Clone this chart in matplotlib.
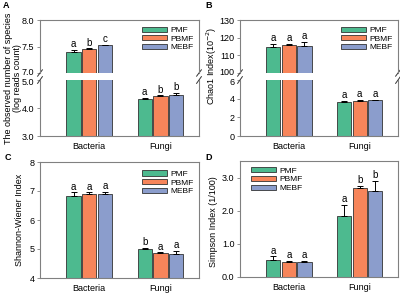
import numpy as np
import matplotlib
matplotlib.use("Agg")
import matplotlib.pyplot as plt
import matplotlib.transforms as mtransforms

plt.rcParams['font.family'] = ['Liberation Sans', 'DejaVu Sans']

# data
groups = ["Bacteria", "Fungi"]
treatments = ["PMF", "PBMF", "MEBF"]
colors = ["#4dba8f", "#f7855a", "#8b9dcc"]

obs_vals = [[7.40, 4.32], [7.45, 4.42], [7.52, 4.48]]
obs_err = [[0.04, 0.05], [0.02, 0.03], [0.01, 0.06]]
obs_sig = [["a", "a"], ["b", "b"], ["c", "b"]]

chao_vals = [[114.5, 3.65], [116.0, 3.80], [115.5, 3.85]]
chao_err = [[2.0, 0.12], [0.6, 0.06], [2.2, 0.05]]
chao_sig = [["a", "a"], ["a", "a"], ["a", "a"]]

shan_vals = [[6.83, 5.00], [6.90, 4.87], [6.90, 4.84]]
shan_err = [[0.12, 0.05], [0.05, 0.02], [0.08, 0.10]]
shan_sig = [["a", "b"], ["a", "a"], ["a", "a"]]

simp_vals = [[0.52, 1.85], [0.45, 2.68], [0.44, 2.60]]
simp_err = [[0.10, 0.32], [0.03, 0.08], [0.05, 0.30]]
simp_sig = [["a", "a"], ["a", "b"], ["a", "b"]]

W, H = 400, 297
fig = plt.figure(figsize=(W / 100, H / 100), dpi=100)

SPINE = "#808080"
FS = 6.5
offsets = [-0.22, 0.0, 0.22]
xpos = np.arange(len(groups))


def box(l, t, r, b):
    return [l / W, 1 - b / H, (r - l) / W, (b - t) / H]


def style(ax):
    for s in ax.spines.values():
        s.set_color(SPINE)
        s.set_linewidth(0.8)
    ax.tick_params(axis="y", direction="out", length=2.5, width=0.6, color=SPINE,
                   labelsize=FS, pad=1.5)
    ax.tick_params(axis="x", length=0, labelsize=FS, pad=4)
    ax.set_xlim(-0.69, 1.54)


def bars(ax, vals, errs, sigs, pad=0.0):
    for i in range(len(treatments)):
        v = np.array(vals[i])
        e = np.array(errs[i])
        ax.bar(xpos + offsets[i], v, width=0.2, color=colors[i], edgecolor="#333333",
               linewidth=0.6, label=treatments[i], zorder=2)
        ax.errorbar(xpos + offsets[i], v, yerr=[np.zeros_like(e), e], fmt="none",
                    ecolor="black", elinewidth=0.7, capsize=2, capthick=0.7, zorder=3)
        for j in range(len(groups)):
            if sigs[i][j]:
                ax.text(xpos[j] + offsets[i], v[j] + e[j] + pad, sigs[i][j],
                        ha="center", va="bottom", fontsize=FS + 0.5)


def breaks(ax_top, ax_bot):
    for ax, yy in ((ax_top, 0), (ax_bot, 1)):
        for x in (0, 1):
            ax.plot([x - 0.015, x + 0.015], [yy - 0.06, yy + 0.06], color="#333333",
                    lw=0.7, transform=ax.transAxes, clip_on=False)


def nudge(label, dy):
    label.set_transform(label.get_transform() +
                        mtransforms.ScaledTranslation(0, dy / 72, fig.dpi_scale_trans))


def broken_panel(l, r, top_lim, bot_lim, top_ticks, bot_ticks, vals, errs, sigs, fmt):
    ax_t = fig.add_axes(box(l, 20, r, 73))
    ax_b = fig.add_axes(box(l, 80, r, 136))
    for ax in (ax_t, ax_b):
        style(ax)
    bars(ax_t, [[v[0], np.nan] for v in vals], [[e[0], 0] for e in errs],
         [[s[0], ""] for s in sigs], pad=(top_lim[1] - top_lim[0]) * 0.01)
    bars(ax_b, vals, errs, [["", s[1]] for s in sigs],
         pad=(bot_lim[1] - bot_lim[0]) * 0.01)
    ax_t.set_ylim(*top_lim)
    ax_b.set_ylim(*bot_lim)
    ax_t.set_yticks(top_ticks)
    ax_b.set_yticks(bot_ticks)
    tl = ax_t.set_yticklabels([fmt.format(t) for t in top_ticks])
    bl = ax_b.set_yticklabels([fmt.format(t) for t in bot_ticks])
    nudge(tl[0], 1.0)
    nudge(bl[-1], -1.0)
    ax_t.spines["bottom"].set_visible(False)
    ax_b.spines["top"].set_visible(False)
    ax_t.set_xticks([])
    ax_b.set_xticks(xpos)
    ax_b.set_xticklabels(groups)
    breaks(ax_t, ax_b)
    return ax_t, ax_b


def legend(ax, loc, anchor):
    ax.legend(loc=loc, bbox_to_anchor=anchor, frameon=False, fontsize=FS - 0.5,
              handlelength=3.0, handleheight=0.55, labelspacing=0.15,
              handletextpad=0.4, borderaxespad=0.2)


# A
a_t, a_b = broken_panel(40, 199, (7.0, 8.0), (3.0, 5.0), [7.0, 7.5, 8.0],
                        [3.0, 4.0, 5.0], obs_vals, obs_err, obs_sig, "{:.1f}")
legend(a_t, "upper right", (1.0, 0.97))
fig.text(13 / W, 1 - 78 / H, "The observed number of species\n(log reads count)",
         rotation=90, ha="center", va="center", fontsize=FS, linespacing=1.0)

# B
b_t, b_b = broken_panel(240, 398, (100, 130), (0, 6), [100, 110, 120, 130],
                        [0, 2, 4, 6], chao_vals, chao_err, chao_sig, "{:g}")
legend(b_t, "upper right", (1.0, 0.97))
fig.text(212 / W, 1 - 66 / H, "Chao1 Index(10$^{-2}$)", rotation=90,
         ha="center", va="center", fontsize=FS)

# C
ax_c = fig.add_axes(box(40, 162, 199, 278))
style(ax_c)
bars(ax_c, shan_vals, shan_err, shan_sig, pad=0.02)
ax_c.set_ylim(4, 8)
ax_c.set_yticks([4, 5, 6, 7, 8])
ax_c.set_xticks(xpos)
ax_c.set_xticklabels(groups)
fig.text(20 / W, 1 - 220 / H, "Shannon-Wiener Index", rotation=90,
         ha="center", va="center", fontsize=FS)
legend(ax_c, "upper right", (1.0, 0.97))

# D
ax_d = fig.add_axes(box(240, 161, 398, 277))
style(ax_d)
bars(ax_d, simp_vals, simp_err, simp_sig, pad=0.02)
ax_d.set_ylim(0, 3.5)
ax_d.set_yticks([0, 1, 2, 3])
ax_d.set_yticklabels(["0.0", "1.0", "2.0", "3.0"])
ax_d.set_xticks(xpos)
ax_d.set_xticklabels(groups)
fig.text(213 / W, 1 - 222 / H, "Simpson Index (1/100)", rotation=90,
         ha="center", va="center", fontsize=FS)
legend(ax_d, "upper left", (0.04, 0.99))

for lab, x, y in (("A", 3, 6), ("B", 205, 6), ("C", 5, 157), ("D", 205, 157)):
    fig.text(x / W, 1 - y / H, lab, fontsize=FS, fontweight="bold",
             ha="left", va="center")

fig.savefig("out.png", dpi=100)
